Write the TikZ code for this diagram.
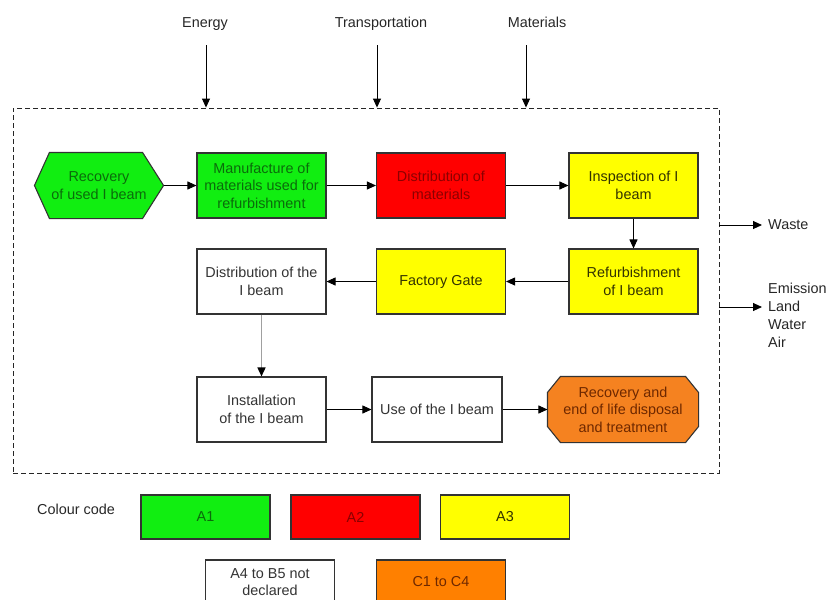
\documentclass[tikz,border=0pt]{standalone}
\usepackage{fontspec}
\setmainfont{Liberation Sans}
\usetikzlibrary{arrows.meta,calc,backgrounds}
\definecolor{fgreen}{HTML}{11EE11}
\definecolor{fred}{HTML}{FF0000}
\definecolor{fyellow}{HTML}{FFFF00}
\definecolor{forange}{HTML}{FF8000}
\definecolor{foct}{HTML}{F58220}
\definecolor{tgreen}{HTML}{0B6B0B}
\definecolor{tred}{HTML}{8B0000}
\definecolor{tyellow}{HTML}{333300}
\definecolor{torange}{HTML}{6E2800}
\definecolor{tgray}{HTML}{333333}
\definecolor{bordergray}{HTML}{333333}
\definecolor{grayline}{HTML}{A0A0A0}
\begin{document}
\begin{tikzpicture}[x=1pt,y=-1pt,
  box/.style={draw=bordergray, line width=1.1pt, minimum width=129pt, minimum height=65pt,
    inner sep=0pt, align=center, font=\fontsize{14.4}{17.5}\selectfont},
  shapeline/.style={draw=bordergray, line width=1.1pt},
  legbox/.style={box, minimum height=44pt},
  lbl/.style={inner sep=0pt, font=\fontsize{14.4}{18}\selectfont, text=black!85},
  conn/.style={-{Triangle[length=9pt,width=8pt]}, line width=0.9pt},
  frameline/.style={draw=black!85, line width=0.9pt, dash pattern=on 5pt off 3pt}
]
\useasboundingbox (0,0) rectangle (828,600);

% frame
\node[frameline, minimum width=706pt, minimum height=365pt, inner sep=0pt] (frame) at (366,290.5) {};

% top inputs
\node[lbl, anchor=base] (energy) at (205,27.5) {Energy};
\node[lbl, anchor=base] (transp) at (381,27.5) {Transportation};
\node[lbl, anchor=base] (mater) at (537,27.5) {Materials};
\coordinate (eTop) at (206,45);
\coordinate (tTop) at (377,45);
\coordinate (mTop) at (526,45);
\draw[conn] (eTop) -- (eTop |- frame.north);
\draw[conn] (tTop) -- (tTop |- frame.north);
\draw[conn] (mTop) -- (mTop |- frame.north);

% process nodes
\node[box, draw=none, minimum width=128pt, text=tgreen] (rec) at (99,185.5) {Recovery\\of used I beam};
\node[box, fill=fgreen, text=tgreen] (manuf) at (261.5,185.5) {Manufacture of\\materials used for\\refurbishment};
\node[box, fill=fred, text=tred] (distm) at (441,185.5) {Distribution of\\materials};
\node[box, fill=fyellow, text=tyellow] (insp) at (633.5,185.5) {Inspection of I\\beam};
\node[box, fill=fyellow, text=tyellow] (refurb) at (633.5,281.5) {Refurbishment\\of I beam};
\node[box, fill=fyellow, text=tyellow] (fgate) at (441,281.5) {Factory Gate};
\node[box, fill=white, text=tgray] (distb) at (261.5,281.5) {Distribution of the\\I beam};
\node[box, fill=white, text=tgray] (inst) at (261.5,409.5) {Installation\\of the I beam};
\node[box, fill=white, text=tgray, minimum width=130pt] (use) at (437,409.5) {Use of the I beam};
\node[box, draw=none, minimum width=150pt, text=torange] (eol) at (623,409.5) {Recovery and\\end of life disposal\\and treatment};

\begin{scope}[on background layer]
\draw[shapeline, fill=fgreen] (rec.west) -- ($(rec.north west)+(15,0)$) -- ($(rec.north east)+(-21,0)$)
  -- (rec.east) -- ($(rec.south east)+(-21,0)$) -- ($(rec.south west)+(15,0)$) -- cycle;
\draw[shapeline, fill=foct] ($(eol.north west)+(0,16)$) -- ($(eol.north west)+(13,0)$)
  -- ($(eol.north east)+(-13,0)$) -- ($(eol.north east)+(0,16)$)
  -- ($(eol.south east)+(0,-16)$) -- ($(eol.south east)+(-13,0)$)
  -- ($(eol.south west)+(13,0)$) -- ($(eol.south west)+(0,-16)$) -- cycle;
\end{scope}

% connectors
\draw[conn] (rec) -- (manuf);
\draw[conn] (manuf) -- (distm);
\draw[conn] (distm) -- (insp);
\draw[conn] (insp) -- (refurb);
\draw[conn] (refurb) -- (fgate);
\draw[conn] (fgate) -- (distb);
\draw[line width=1.5pt, draw=grayline, -{Triangle[length=9pt,width=8pt,color=black]}] (distb) -- (inst);
\draw[conn] (inst) -- (use);
\draw[conn] (use) -- (eol.west);

% outputs
\node[lbl, anchor=west] (waste) at (768,225) {Waste};
\coordinate (wasteArr) at ($(waste.west)+(-6,0)$);
\draw[conn] (frame.east |- wasteArr) -- (wasteArr);
\node[lbl, anchor=west, align=left] (emis) at (768,315) {Emission\\Land\\Water\\Air};
\coordinate (emisArr) at ($(emis.west)+(-6,-8)$);
\draw[conn] (frame.east |- emisArr) -- (emisArr);

% legend
\node[lbl] (ccode) at (76,509) {Colour code};
\node[legbox, fill=fgreen, text=tgreen] (la1) at (205.5,517) {A1};
\node[legbox, fill=fred, text=tred] (la2) at (355.5,517) {A2};
\node[legbox, fill=fyellow, text=tyellow] (la3) at (505,517) {A3};
\node[legbox, fill=white, text=tgray] (la4) at (270,582) {A4 to B5 not\\declared};
\node[legbox, fill=forange, text=torange] (lc1) at (441,582) {C1 to C4};
\end{tikzpicture}
\end{document}
